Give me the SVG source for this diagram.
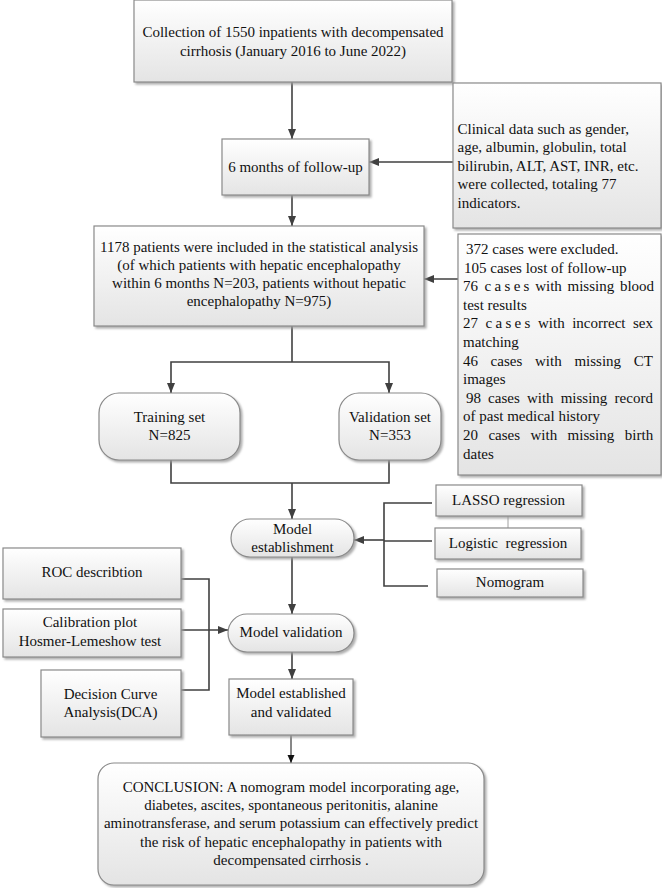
<svg xmlns="http://www.w3.org/2000/svg" width="662" height="888" viewBox="0 0 662 888">
<defs>
<linearGradient id="g" x1="0" y1="0" x2="0" y2="1">
<stop offset="0" stop-color="#ffffff"/>
<stop offset="1" stop-color="#e4e4e4"/>
</linearGradient>
<filter id="sh" x="-10%" y="-10%" width="130%" height="130%">
<feDropShadow dx="2" dy="2" stdDeviation="1" flood-color="#9a9a9a" flood-opacity="0.8"/>
</filter>
<marker id="ar" markerUnits="userSpaceOnUse" markerWidth="10" markerHeight="8" refX="10" refY="4" orient="auto">
<path d="M0,0 L10,4 L0,8 z" fill="#404040"/>
</marker>
<marker id="ar2" markerUnits="userSpaceOnUse" markerWidth="8" markerHeight="8" refX="8" refY="4" orient="auto">
<path d="M0,0.5 L8,4 L0,7.5 z" fill="#111"/>
</marker>
</defs>
<style>
.b{fill:url(#g);stroke:#8a8a8a;stroke-width:1.2;filter:url(#sh)}
.t{font-family:"Liberation Serif","Times New Roman",serif;font-size:15px;fill:#111}
.c{text-anchor:middle}
.l{stroke:#404040;stroke-width:1.6;fill:none}
.a{marker-end:url(#ar)}
.sp{letter-spacing:3.3px}
</style>

<g id="connectors">
<line class="l a" x1="292" y1="82" x2="292" y2="139"/>
<line class="l a" x1="453" y1="162" x2="369" y2="162"/>
<line class="l a" x1="292" y1="195" x2="292" y2="226"/>
<line class="l a" x1="458" y1="279" x2="424" y2="279"/>
<polyline class="l" points="292,326 292,362"/>
<polyline class="l a" points="292,362 171,362 171,393"/>
<polyline class="l a" points="292,362 389,362 389,393"/>
<polyline class="l" points="171,460 171,483 389,483 389,460"/>
<line class="l a" x1="292" y1="483" x2="292" y2="519"/>
<polyline class="l" points="432,503 384,503 384,586 428,586"/>
<line class="l" x1="384" y1="541" x2="432" y2="541"/>
<line class="l a" x1="384" y1="540" x2="354" y2="540"/>
<line x1="508" y1="516" x2="508" y2="528" stroke="#a0a0a0" stroke-width="1"/>
<line class="l a" x1="292" y1="557" x2="292" y2="614"/>
<polyline class="l" points="181,579 209,579 209,690 181,690"/>
<line class="l a" x1="181" y1="630" x2="228" y2="630"/>
<line class="l a" x1="292" y1="652" x2="292" y2="679"/>
<line x1="291" y1="735" x2="291" y2="763" stroke="#111" stroke-width="1" marker-end="url(#ar2)"/>
</g>

<g id="collection">
<rect class="b" x="134" y="0" width="318" height="82"/>
<text class="t c" x="293" y="37">Collection of 1550 inpatients with decompensated</text>
<text class="t c" x="293" y="55.5">cirrhosis (January 2016 to June 2022)</text>
</g>

<g id="followup">
<rect class="b" x="222" y="139" width="147" height="56"/>
<text class="t c" x="295.5" y="172">6 months of follow-up</text>
</g>

<g id="clinical">
<rect class="b" x="453" y="83" width="208" height="145"/>
<text class="t" x="457.5" y="133.5">Clinical data such as gender,</text>
<text class="t" x="457.5" y="152">age, albumin, globulin, total</text>
<text class="t" x="457.5" y="170.5">bilirubin, ALT, AST, INR, etc.</text>
<text class="t" x="457.5" y="189">were collected, totaling 77</text>
<text class="t" x="457.5" y="207.5">indicators.</text>
</g>

<g id="included">
<rect class="b" x="94" y="226" width="330" height="100"/>
<text class="t c" x="259" y="252">1178 patients were included in the statistical analysis</text>
<text class="t c" x="259" y="270">(of which patients with hepatic encephalopathy</text>
<text class="t c" x="259" y="288">within 6 months N=203, patients without hepatic</text>
<text class="t c" x="259" y="306">encephalopathy N=975)</text>
</g>

<g id="excluded">
<rect class="b" x="458" y="234" width="203" height="241"/>
<text class="t" x="466" y="254">372 cases were excluded.</text>
<text class="t" x="464" y="272.6">105 cases lost of follow-up</text>
<text class="t" y="291.2"><tspan x="463">76</tspan><tspan x="484.6" class="sp">cases</tspan><tspan x="535.2">with</tspan><tspan x="567.5">missing</tspan><tspan x="619.9">blood</tspan></text>
<text class="t" x="463" y="309.8">test results</text>
<text class="t" y="328.4"><tspan x="463">27</tspan><tspan x="485.5" class="sp">cases</tspan><tspan x="538">with</tspan><tspan x="572.2">incorrect</tspan><tspan x="633">sex</tspan></text>
<text class="t" x="463" y="347">matching</text>
<text class="t" y="365.6"><tspan x="463">46</tspan><tspan x="490.6">cases</tspan><tspan x="535">with</tspan><tspan x="574.4">missing</tspan><tspan x="633.8">CT</tspan></text>
<text class="t" x="463" y="384.2">images</text>
<text class="t" y="402.8"><tspan x="466">98</tspan><tspan x="488.1">cases</tspan><tspan x="526.9">with</tspan><tspan x="560.7">missing</tspan><tspan x="614.6">record</tspan></text>
<text class="t" x="463" y="421.4">of past medical history</text>
<text class="t" y="440"><tspan x="463">20</tspan><tspan x="488.4">cases</tspan><tspan x="530.5">with</tspan><tspan x="567.6">missing</tspan><tspan x="624.8">birth</tspan></text>
<text class="t" x="463" y="458.6">dates</text>
</g>

<g id="training">
<rect class="b" x="99" y="393" width="141" height="67" rx="20"/>
<text class="t c" x="169.5" y="422">Training set</text>
<text class="t c" x="169.5" y="440">N=825</text>
</g>

<g id="validation">
<rect class="b" x="339" y="393" width="102" height="67" rx="20"/>
<text class="t c" x="390" y="422">Validation set</text>
<text class="t c" x="390" y="440">N=353</text>
</g>

<g id="model-establishment">
<rect class="b" x="231" y="519" width="123" height="38" rx="19"/>
<text class="t c" x="292.5" y="534">Model</text>
<text class="t c" x="292.5" y="552">establishment</text>
</g>

<g id="lasso">
<rect class="b" x="436" y="485" width="146" height="31"/>
<text class="t c" x="508.5" y="505">LASSO regression</text>
</g>

<g id="logistic">
<rect class="b" x="435" y="528" width="146" height="31"/>
<text class="t c" x="508" y="548" xml:space="preserve">Logistic  regression</text>
</g>

<g id="nomogram">
<rect class="b" x="437" y="569" width="146" height="28"/>
<text class="t c" x="510" y="587">Nomogram</text>
</g>

<g id="model-validation">
<rect class="b" x="228" y="614" width="126" height="38" rx="19"/>
<text class="t c" x="291" y="637">Model validation</text>
</g>

<g id="roc">
<rect class="b" x="3" y="548" width="178" height="51"/>
<text class="t c" x="92" y="577">ROC describtion</text>
</g>

<g id="calibration">
<rect class="b" x="3" y="609" width="178" height="48"/>
<text class="t c" x="90" y="627">Calibration plot</text>
<text class="t c" x="90" y="646">Hosmer-Lemeshow test</text>
</g>

<g id="dca">
<rect class="b" x="41" y="670" width="140" height="67"/>
<text class="t c" x="110.5" y="699">Decision Curve</text>
<text class="t c" x="110.5" y="717">Analysis(DCA)</text>
</g>

<g id="established">
<rect class="b" x="229" y="679" width="124" height="56"/>
<text class="t c" x="291" y="698">Model established</text>
<text class="t c" x="291" y="717">and validated</text>
</g>

<g id="conclusion">
<rect class="b" x="98" y="763" width="386" height="122" rx="16"/>
<text class="t c" x="291" y="792">CONCLUSION: A nomogram model incorporating age,</text>
<text class="t c" x="291" y="810">diabetes, ascites, spontaneous peritonitis, alanine</text>
<text class="t c" x="291" y="828">aminotransferase, and serum potassium can effectively predict</text>
<text class="t c" x="291" y="847">the risk of hepatic encephalopathy in patients with</text>
<text class="t c" x="291" y="865">decompensated cirrhosis .</text>
</g>
</svg>
